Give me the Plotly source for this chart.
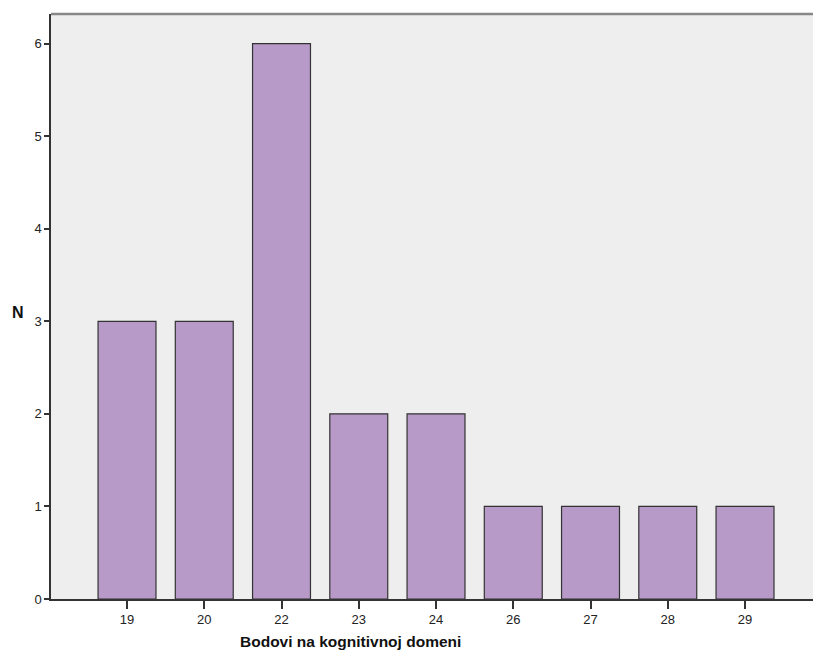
import plotly.graph_objects as go

categories = ["19", "20", "22", "23", "24", "26", "27", "28", "29"]
counts = [3, 3, 6, 2, 2, 1, 1, 1, 1]
y_ticks = [0, 1, 2, 3, 4, 5, 6]

fig = go.Figure()
fig.add_trace(go.Bar(
    x=categories, y=counts, width=0.75,
    marker=dict(color="#b89ac8", line=dict(color="#333333", width=1.2)),
))

W, H = 813, 659
L, T, B = 51, 14, 60
fig.update_layout(
    width=W, height=H,
    margin=dict(l=L, r=0, t=T, b=B),
    paper_bgcolor="white", plot_bgcolor="#eeeeee",
    font=dict(family="Liberation Sans, Arial, sans-serif", size=12, color="#222222"),
    showlegend=False,
)
fig.update_xaxes(
    type="category", range=[-0.984, 8.88],
    showgrid=False, zeroline=False,
    showline=True, linecolor="#333333", linewidth=1.5,
    ticks="outside", ticklen=8, tickwidth=1.5, tickcolor="#333333",
    tickfont=dict(size=13, color="#222222"),
)
fig.update_yaxes(
    range=[0, 6.32], tickvals=y_ticks,
    showgrid=False, zeroline=False,
    showline=True, linecolor="#333333", linewidth=1.5,
    ticks="outside", ticklen=5, tickwidth=1.5, tickcolor="#333333",
    tickfont=dict(size=13, color="#222222"),
)
fig.add_shape(type="line", xref="paper", yref="paper", x0=0, x1=1, y0=1, y1=1,
              line=dict(color="#888888", width=2.5))
pw = W - L
ph = H - T - B
fig.add_annotation(text="<b>Bodovi na kognitivnoj domeni</b>", xref="paper", yref="paper",
                   x=(350 - L) / pw, y=0, yshift=-42, yanchor="middle", showarrow=False,
                   font=dict(size=15.5, color="#111111"))
fig.add_annotation(text="<b>N</b>", xref="paper", yref="paper",
                   x=0, xshift=-33, y=(599 - 312) / ph, xanchor="center", yanchor="middle",
                   showarrow=False, font=dict(size=16, color="#111111"))

fig.write_html("out.html", config={"displayModeBar": False},
               post_script="document.body.style.margin='0';document.body.style.overflow='hidden';")
